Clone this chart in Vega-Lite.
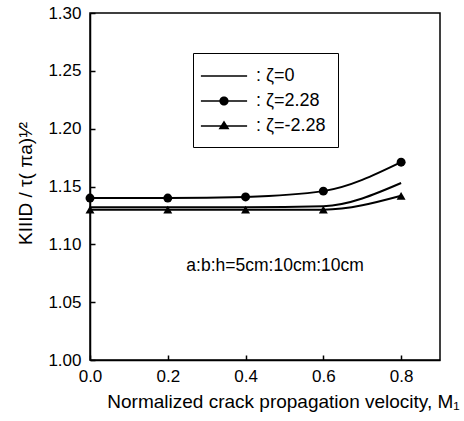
{
  "$schema": "https://vega.github.io/schema/vega-lite/v6.json",
  "width": 350,
  "height": 347,
  "autosize": "none",
  "padding": {"left": 90, "top": 13, "right": 24, "bottom": 61},
  "background": "white",
  "config": {
    "font": "Liberation Sans",
    "view": {"stroke": "black", "strokeWidth": 1.5},
    "axis": {
      "grid": false,
      "domainColor": "black",
      "domainWidth": 1.5,
      "tickColor": "black",
      "tickWidth": 1.5,
      "tickSize": -5,
      "labelColor": "black",
      "labelFont": "Liberation Sans",
      "labelFontSize": 17,
      "titleColor": "black",
      "titleFont": "Liberation Sans",
      "titleFontSize": 19,
      "titleFontWeight": "normal"
    }
  },
  "datasets": {
    "curves": [
      {"series": "ζ=0", "M": 0.0, "K": 1.132},
      {"series": "ζ=0", "M": 0.2, "K": 1.132},
      {"series": "ζ=0", "M": 0.4, "K": 1.132},
      {"series": "ζ=0", "M": 0.6, "K": 1.133},
      {"series": "ζ=0", "M": 0.8, "K": 1.153},
      {"series": "ζ=2.28", "M": 0.0, "K": 1.140},
      {"series": "ζ=2.28", "M": 0.2, "K": 1.140},
      {"series": "ζ=2.28", "M": 0.4, "K": 1.141},
      {"series": "ζ=2.28", "M": 0.6, "K": 1.146},
      {"series": "ζ=2.28", "M": 0.8, "K": 1.171},
      {"series": "ζ=-2.28", "M": 0.0, "K": 1.130},
      {"series": "ζ=-2.28", "M": 0.2, "K": 1.130},
      {"series": "ζ=-2.28", "M": 0.4, "K": 1.130},
      {"series": "ζ=-2.28", "M": 0.6, "K": 1.130},
      {"series": "ζ=-2.28", "M": 0.8, "K": 1.142}
    ],
    "note": [
      {"M": 0.476, "K": 1.081, "label": "a:b:h=5cm:10cm:10cm"}
    ]
  },
  "layer": [
    {
      "data": {"name": "curves"},
      "mark": {"type": "line", "interpolate": "monotone", "color": "black", "strokeWidth": 2},
      "encoding": {
        "x": {
          "field": "M", "type": "quantitative",
          "scale": {"domain": [0, 0.9], "nice": false, "zero": false},
          "axis": {
            "title": "Normalized crack propagation velocity, M₁",
            "values": [0, 0.2, 0.4, 0.6, 0.8],
            "format": ".1f",
            "labelFlush": false,
            "labelPadding": 13,
            "titleX": 193,
            "titleY": 47,
            "titleBaseline": "alphabetic",
            "titleAlign": "center"
          }
        },
        "y": {
          "field": "K", "type": "quantitative",
          "scale": {"domain": [1.0, 1.3], "nice": false, "zero": false},
          "axis": {
            "title": "KIIID / τ( πa)¹⁄²",
            "values": [1.0, 1.05, 1.1, 1.15, 1.2, 1.25, 1.3],
            "format": ".2f",
            "labelFlush": false,
            "labelPadding": 14,
            "titleX": -65,
            "titleY": 170,
            "titleAngle": 270,
            "titleAlign": "center",
            "titleBaseline": "middle"
          }
        },
        "detail": {"field": "series"}
      }
    },
    {
      "data": {"name": "curves"},
      "transform": [{"filter": "datum.series !== 'ζ=0'"}],
      "mark": {"type": "point", "filled": true, "color": "black", "size": 80, "opacity": 1},
      "encoding": {
        "x": {"field": "M", "type": "quantitative"},
        "y": {"field": "K", "type": "quantitative"},
        "shape": {
          "field": "series", "type": "nominal",
          "scale": {"domain": ["ζ=2.28", "ζ=-2.28"], "range": ["circle", "triangle-up"]},
          "legend": null
        }
      }
    },
    {
      "data": {"name": "curves"},
      "mark": {"type": "point", "filled": true, "color": "black", "size": 0},
      "encoding": {
        "x": {"field": "M", "type": "quantitative"},
        "y": {"field": "K", "type": "quantitative"},
        "shape": {
          "field": "series", "type": "nominal",
          "scale": {
            "domain": ["ζ=0", "ζ=2.28", "ζ=-2.28"],
            "range": [
              "M-2.1,-0.07H2.1V0.07H-2.1Z",
              "M-2.1,-0.07H2.1V0.07H-2.1ZM0.42,0A0.42,0.42,0,1,1,-0.42,0A0.42,0.42,0,1,1,0.42,0Z",
              "M-2.1,-0.07H2.1V0.07H-2.1ZM-0.5,0.3L0,-0.5L0.5,0.3Z"
            ]
          },
          "legend": {
            "title": null,
            "orient": "none",
            "legendX": 103,
            "legendY": 40,
            "padding": 12,
            "strokeColor": "black",
            "fillColor": "white",
            "symbolSize": 484,
            "symbolOffset": 8,
            "symbolFillColor": "black",
            "symbolStrokeColor": "black",
            "symbolStrokeWidth": 0,
            "symbolOpacity": 1,
            "labelOffset": 21,
            "labelFont": "Liberation Sans",
            "labelFontSize": 18,
            "labelColor": "black",
            "labelExpr": "': ' + datum.label",
            "rowPadding": 5
          }
        }
      }
    },
    {
      "data": {"name": "note"},
      "mark": {"type": "text", "font": "Liberation Sans", "fontSize": 17.5, "color": "black", "align": "center", "baseline": "middle"},
      "encoding": {
        "x": {"field": "M", "type": "quantitative"},
        "y": {"field": "K", "type": "quantitative"},
        "text": {"field": "label"}
      }
    }
  ],
  "resolve": {"scale": {"shape": "independent"}, "legend": {"shape": "independent"}}
}
